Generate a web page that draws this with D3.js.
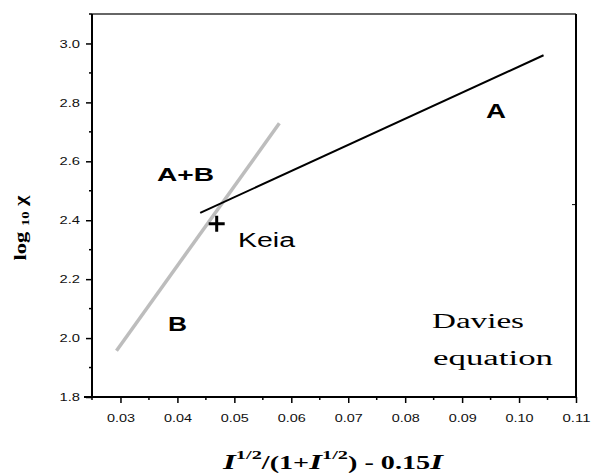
<!DOCTYPE html>
<html>
<head>
<meta charset="utf-8">
<script src="https://cdn.jsdelivr.net/npm/d3@7"></script>
<style>
  body { margin: 0; background: #fff; }
  svg { display: block; }
  .tick text { font-family: "Liberation Sans", Arial, sans-serif; font-size: 11.5px; fill: #111; }
</style>
</head>
<body>
<script>
// data
const lineA = [[0.0440, 2.425], [0.1043, 2.960]];   // black, "A"
const lineB = [[0.0293, 1.957], [0.0579, 2.729]];   // grey, "B"
const keia = [0.0469, 2.388];
const xTicks = [0.03, 0.04, 0.05, 0.06, 0.07, 0.08, 0.09, 0.10, 0.11];
const yTicks = [1.8, 2.0, 2.2, 2.4, 2.6, 2.8, 3.0];

let width = 592, height = 476;
let margin = {left: 92, top: 14, right: 16, bottom: 79};

let svg = d3.select("body").append("svg")
    .attr("width", width)
    .attr("height", height);

let x = d3.scaleLinear().domain([0.025, 0.11]).range([margin.left, width - margin.right]);
let y = d3.scaleLinear().domain([1.8, 3.1]).range([height - margin.bottom, margin.top]);

// frame
svg.append("line").attr("x1", x(0.025)).attr("x2", x(0.11)).attr("y1", y(3.1)).attr("y2", y(3.1))
    .attr("stroke", "#333").attr("stroke-width", 1.5);
svg.append("line").attr("x1", x(0.11)).attr("x2", x(0.11)).attr("y1", y(3.1)).attr("y2", y(1.8))
    .attr("stroke", "#000").attr("stroke-width", 2);
// lone tick on the right side
svg.append("line").attr("x1", x(0.11)).attr("x2", x(0.11) - 4).attr("y1", y(2.453)).attr("y2", y(2.453))
    .attr("stroke", "#000").attr("stroke-width", 1);

// minor ticks
let xMinor = d3.range(0.025, 0.1101, 0.005).filter(v => Math.abs(v * 100 - Math.round(v * 100)) > 0.01);
let yMinor = d3.range(1.9, 3.1, 0.2);

let xAxis = svg.append("g")
    .attr("transform", "translate(0," + y(1.8) + ")")
    .call(d3.axisBottom(x).tickValues(xTicks).tickFormat(d3.format(".2f")).tickSize(6).tickPadding(11).tickSizeOuter(0));
xAxis.select(".domain").attr("d", "M" + (x(0.025) - 8) + ",0H" + x(0.11)).attr("stroke-width", 2);
xAxis.selectAll(".tick line").attr("stroke-width", 1.5);
xAxis.selectAll(".tick text").attr("textLength", 28).attr("lengthAdjust", "spacingAndGlyphs");
xAxis.selectAll(".minor").data(xMinor).enter().append("line")
    .attr("x1", d => x(d)).attr("x2", d => x(d)).attr("y1", 0).attr("y2", 3)
    .attr("stroke", "#000").attr("stroke-width", 1.5);

let yAxis = svg.append("g")
    .attr("transform", "translate(" + x(0.025) + ",0)")
    .call(d3.axisLeft(y).tickValues(yTicks).tickFormat(d3.format(".1f")).tickSize(6).tickPadding(6).tickSizeOuter(0));
yAxis.select(".domain").attr("d", "M0," + y(3.1) + "V" + y(1.8)).attr("stroke-width", 2);
yAxis.selectAll(".tick line").attr("stroke-width", 1.5);
yAxis.selectAll(".tick text").attr("textLength", 20.5).attr("lengthAdjust", "spacingAndGlyphs");
yAxis.selectAll(".minor").data(yMinor).enter().append("line")
    .attr("y1", d => y(d)).attr("y2", d => y(d)).attr("x1", 0).attr("x2", -3)
    .attr("stroke", "#000").attr("stroke-width", 1.5);

let line = d3.line().x(d => x(d[0])).y(d => y(d[1]));

svg.append("path").datum(lineB).attr("d", line)
    .attr("stroke", "#bdbdbd").attr("stroke-width", 3.5).attr("fill", "none");
svg.append("path").datum(lineA).attr("d", line)
    .attr("stroke", "#000").attr("stroke-width", 2).attr("fill", "none");

// Keia marker
svg.append("path")
    .attr("transform", "translate(" + x(keia[0]) + "," + y(keia[1]) + ")")
    .attr("d", "M-8,0H8M0,-8V8")
    .attr("stroke", "#000").attr("stroke-width", 3);

// annotations (the reference text is stretched sideways, so fix each width)
const sans = "'Liberation Sans', Arial, sans-serif";
const serif = "'Liberation Serif', 'Times New Roman', serif";
function label(t, px, py, len, opts) {
    return svg.append("text").attr("x", px).attr("y", py).text(t)
        .attr("textLength", len).attr("lengthAdjust", "spacingAndGlyphs")
        .style("font-family", opts.font).style("font-size", opts.size + "px")
        .style("font-weight", opts.weight || "normal").attr("fill", "#000");
}
label("A", 486, 118, 20, {font: sans, size: 20, weight: "bold"});
label("A+B", 157, 181, 57, {font: sans, size: 19, weight: "bold"});
label("B", 168, 331, 19, {font: sans, size: 21, weight: "bold"});
label("Keia", 238, 247, 57, {font: sans, size: 19.5});
label("Davies", 432, 328, 92, {font: serif, size: 20});
label("equation", 433, 365, 120, {font: serif, size: 20});

// y axis title
let yt = svg.append("text")
    .attr("transform", "translate(26,228) rotate(-90)")
    .attr("text-anchor", "middle")
    .attr("textLength", 65).attr("lengthAdjust", "spacingAndGlyphs")
    .style("font-family", serif).style("font-weight", "bold").style("font-size", "17px");
yt.append("tspan").text("log ");
yt.append("tspan").text("10").style("font-size", "11px").attr("dy", 3);
yt.append("tspan").text(" χ").attr("dy", -3);

// x axis title
let xt = svg.append("text")
    .attr("x", 333).attr("y", 469)
    .attr("text-anchor", "middle")
    .attr("textLength", 220).attr("lengthAdjust", "spacingAndGlyphs")
    .style("font-family", serif).style("font-weight", "bold").style("font-size", "18px");
xt.append("tspan").text("I").style("font-style", "italic").style("font-size", "21px");
xt.append("tspan").text("1/2").style("font-size", "13px").attr("dy", -10);
xt.append("tspan").text("/(1+").attr("dy", 10);
xt.append("tspan").text("I").style("font-style", "italic").style("font-size", "21px");
xt.append("tspan").text("1/2").style("font-size", "13px").attr("dy", -10);
xt.append("tspan").text(") - 0.15").attr("dy", 10);
xt.append("tspan").text("I").style("font-style", "italic").style("font-size", "21px");
</script>
</body>
</html>
